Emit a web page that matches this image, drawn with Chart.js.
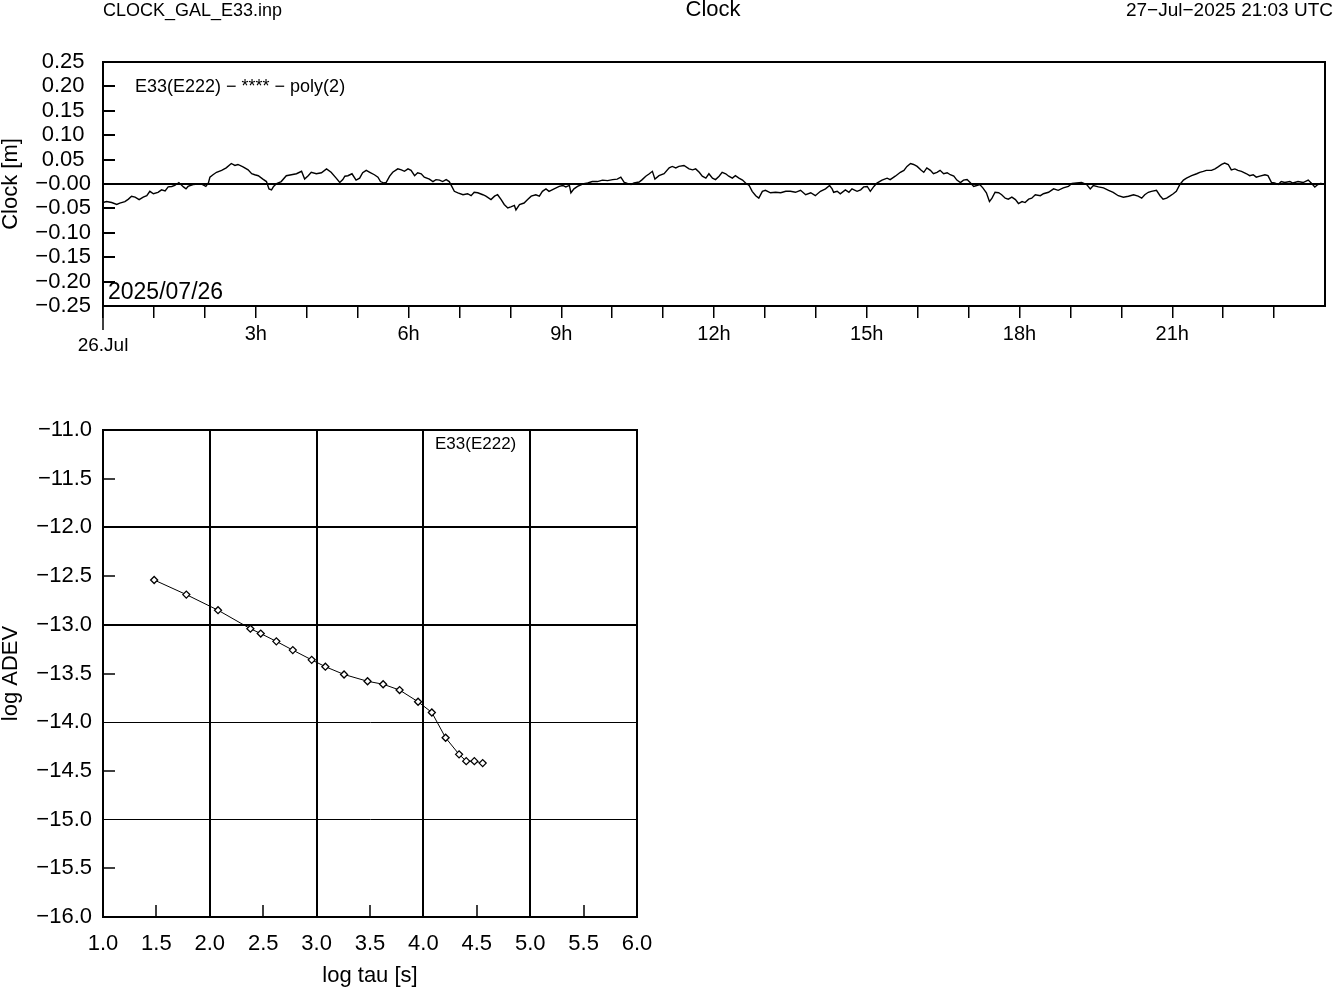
<!DOCTYPE html>
<html>
<head>
<meta charset="utf-8">
<title>Clock</title>
<script src="https://cdn.jsdelivr.net/npm/chart.js@4.4.1/dist/chart.umd.min.js"></script>
<style>
  html, body { margin: 0; padding: 0; background: #fff; }
  #page { position: relative; width: 1333px; height: 989px; overflow: hidden; }
  canvas { position: absolute; left: 0; }
</style>
</head>
<body>
<div id="page">
  <canvas id="clockChart" width="1333" height="370" style="top:0"></canvas>
  <canvas id="adevChart" width="1333" height="619" style="top:370px"></canvas>
</div>
<script>
// --- clock residuals (hours since 26.Jul 00:00, metres)
const clockHours = [
  0.00, 0.07, 0.17, 0.27, 0.33, 0.43, 0.50, 0.56, 0.63, 0.71, 0.79, 0.86, 0.92, 0.99, 1.08, 1.15, 1.22, 1.28, 1.35, 1.41,
  1.49, 1.58, 1.63, 1.67, 1.77, 1.87, 1.93, 2.02, 2.07, 2.10, 2.16, 2.23, 2.33, 2.42, 2.52, 2.59, 2.65, 2.75, 2.85, 2.92,
  2.98, 3.05, 3.14, 3.21, 3.26, 3.31, 3.35, 3.41, 3.50, 3.60, 3.70, 3.80, 3.90, 3.96, 4.03, 4.09, 4.19, 4.29, 4.39, 4.48,
  4.58, 4.65, 4.71, 4.75, 4.81, 4.89, 4.97, 5.04, 5.10, 5.17, 5.24, 5.33, 5.40, 5.45, 5.52, 5.56, 5.63, 5.69, 5.79, 5.86,
  5.92, 5.99, 6.05, 6.12, 6.18, 6.25, 6.31, 6.41, 6.48, 6.54, 6.61, 6.67, 6.74, 6.80, 6.85, 6.90, 6.97, 7.07, 7.16, 7.23,
  7.29, 7.36, 7.46, 7.52, 7.62, 7.69, 7.75, 7.82, 7.88, 7.95, 8.01, 8.08, 8.11, 8.18, 8.27, 8.34, 8.41, 8.50, 8.57, 8.63,
  8.70, 8.76, 8.86, 8.96, 9.03, 9.09, 9.16, 9.19, 9.25, 9.32, 9.42, 9.52, 9.61, 9.71, 9.81, 9.91, 10.01, 10.10, 10.17, 10.24,
  10.30, 10.37, 10.43, 10.53, 10.59, 10.66, 10.73, 10.79, 10.84, 10.92, 11.02, 11.12, 11.18, 11.25, 11.31, 11.41, 11.51, 11.58, 11.64, 11.71,
  11.77, 11.84, 11.90, 11.97, 12.03, 12.10, 12.16, 12.23, 12.29, 12.36, 12.42, 12.49, 12.56, 12.62, 12.69, 12.75, 12.82, 12.88, 12.95, 13.01,
  13.11, 13.21, 13.31, 13.41, 13.50, 13.60, 13.70, 13.80, 13.90, 13.99, 14.09, 14.19, 14.27, 14.32, 14.35, 14.42, 14.48, 14.58, 14.65, 14.71,
  14.81, 14.88, 14.94, 15.01, 15.07, 15.14, 15.20, 15.30, 15.40, 15.46, 15.56, 15.66, 15.73, 15.79, 15.86, 15.92, 15.99, 16.07, 16.12, 16.18,
  16.25, 16.31, 16.38, 16.44, 16.51, 16.58, 16.64, 16.71, 16.77, 16.84, 16.90, 16.97, 17.03, 17.10, 17.16, 17.22, 17.28, 17.35, 17.41, 17.46,
  17.52, 17.59, 17.65, 17.72, 17.78, 17.85, 17.92, 17.98, 18.05, 18.11, 18.18, 18.24, 18.31, 18.41, 18.47, 18.57, 18.67, 18.76, 18.86, 18.96,
  19.03, 19.12, 19.22, 19.32, 19.39, 19.45, 19.55, 19.65, 19.75, 19.84, 19.94, 20.04, 20.14, 20.24, 20.33, 20.40, 20.46, 20.53, 20.59, 20.69,
  20.76, 20.82, 20.89, 20.95, 21.02, 21.08, 21.15, 21.22, 21.28, 21.38, 21.48, 21.54, 21.61, 21.67, 21.77, 21.84, 21.90, 21.97, 22.03, 22.10,
  22.16, 22.23, 22.29, 22.36, 22.46, 22.52, 22.59, 22.65, 22.72, 22.82, 22.88, 22.95, 23.01, 23.08, 23.14, 23.21, 23.31, 23.37, 23.47, 23.57,
  23.67, 23.73, 23.80, 23.86, 23.93
];
const clockMeters = [
  -0.038, -0.036, -0.038, -0.042, -0.039, -0.036, -0.031, -0.025, -0.027, -0.032, -0.027, -0.024, -0.015, -0.020, -0.017, -0.012, -0.014, -0.006, -0.005, -0.003,
  0.003, -0.006, -0.010, -0.005, -0.001, 0.000, 0.000, -0.005, 0.002, 0.014, 0.019, 0.024, 0.028, 0.033, 0.042, 0.038, 0.040, 0.035, 0.029, 0.021,
  0.019, 0.017, 0.010, 0.005, -0.010, -0.012, -0.005, 0.001, 0.005, 0.017, 0.019, 0.021, 0.026, 0.010, 0.017, 0.024, 0.021, 0.023, 0.031, 0.024,
  0.012, 0.003, 0.009, 0.016, 0.017, 0.021, 0.008, 0.012, 0.023, 0.028, 0.024, 0.019, 0.014, 0.005, 0.002, 0.003, 0.016, 0.024, 0.031, 0.029,
  0.026, 0.031, 0.028, 0.017, 0.023, 0.021, 0.014, 0.010, 0.005, 0.009, 0.008, 0.005, 0.009, 0.005, -0.005, -0.015, -0.018, -0.022, -0.020, -0.024,
  -0.017, -0.018, -0.022, -0.025, -0.032, -0.025, -0.022, -0.032, -0.042, -0.049, -0.047, -0.044, -0.053, -0.042, -0.039, -0.032, -0.025, -0.022, -0.025, -0.015,
  -0.010, -0.015, -0.010, -0.005, -0.003, -0.006, -0.003, -0.018, -0.010, -0.005, 0.000, 0.002, 0.005, 0.005, 0.008, 0.007, 0.009, 0.010, 0.014, 0.003,
  0.001, -0.001, 0.002, 0.004, 0.009, 0.016, 0.021, 0.026, 0.010, 0.017, 0.021, 0.033, 0.036, 0.033, 0.036, 0.038, 0.031, 0.029, 0.031, 0.024,
  0.016, 0.012, 0.021, 0.012, 0.009, 0.016, 0.024, 0.021, 0.016, 0.012, 0.017, 0.012, 0.008, 0.002, -0.003, -0.015, -0.024, -0.029, -0.015, -0.013,
  -0.018, -0.017, -0.018, -0.015, -0.015, -0.017, -0.013, -0.022, -0.018, -0.024, -0.015, -0.010, -0.003, -0.010, -0.017, -0.015, -0.020, -0.012, -0.017, -0.010,
  -0.015, -0.012, -0.006, -0.005, -0.015, -0.005, 0.002, 0.008, 0.012, 0.009, 0.016, 0.024, 0.028, 0.036, 0.042, 0.040, 0.036, 0.028, 0.024, 0.033,
  0.028, 0.021, 0.024, 0.028, 0.021, 0.023, 0.019, 0.016, 0.008, 0.003, 0.008, 0.009, 0.003, -0.005, -0.003, -0.001, -0.008, -0.018, -0.036, -0.029,
  -0.017, -0.018, -0.022, -0.029, -0.031, -0.027, -0.032, -0.040, -0.036, -0.038, -0.031, -0.029, -0.022, -0.024, -0.020, -0.017, -0.010, -0.013, -0.008, -0.005,
  0.001, 0.002, 0.003, -0.001, -0.010, -0.003, -0.006, -0.008, -0.013, -0.017, -0.024, -0.027, -0.025, -0.022, -0.025, -0.029, -0.022, -0.017, -0.015, -0.013,
  -0.024, -0.031, -0.029, -0.025, -0.020, -0.015, -0.001, 0.008, 0.012, 0.017, 0.021, 0.024, 0.026, 0.028, 0.028, 0.031, 0.035, 0.040, 0.043, 0.040,
  0.029, 0.031, 0.028, 0.026, 0.021, 0.017, 0.019, 0.014, 0.016, 0.019, 0.017, 0.003, 0.002, -0.001, 0.005, 0.003, 0.005, 0.002, 0.005, 0.003,
  0.008, 0.002, -0.006, -0.001, 0.002
];

// --- Allan deviation (log10 tau [s], log10 ADEV)
const logTau  = [1.479, 1.780, 2.077, 2.380, 2.477, 2.623, 2.777, 2.954, 3.082, 3.257, 3.477, 3.623, 3.777, 3.950, 4.079, 4.208, 4.334, 4.401, 4.477, 4.555];
const logAdev = [-12.54, -12.69, -12.85, -13.04, -13.09, -13.17, -13.26, -13.36, -13.43, -13.51, -13.58, -13.61, -13.67, -13.79, -13.90, -14.16, -14.33, -14.40, -14.40, -14.42];

// --- texts
const fileName   = 'CLOCK_GAL_E33.inp';
const plotTitle  = 'Clock';
const stampText  = '27\u2212Jul\u22122025 21:03 UTC';
const clockTag   = 'E33(E222) \u2212 **** \u2212 poly(2)';
const adevTag    = 'E33(E222)';
const dayText    = '2025/07/26';
const dayTick    = '26.Jul';

const FONT = '"Liberation Sans", Arial, Helvetica, sans-serif';
const MINUS = '\u2212';
const isWhole = v => Math.abs(v - Math.round(v)) < 1e-9;

function fmtClock(v) {
  if (v < 0.001) return MINUS + Math.abs(v).toFixed(2);
  return v.toFixed(2);
}

// frame, inward ticks and free texts of the upper plot
const clockFrame = {
  id: 'clockFrame',
  afterDraw(chart) {
    const { ctx, chartArea: a, scales: { x, y } } = chart;
    ctx.save();
    ctx.strokeStyle = '#000';
    ctx.lineWidth = 2;
    ctx.strokeRect(a.left, a.top, a.right - a.left, a.bottom - a.top);
    y.ticks.forEach(t => {
      if (t.value <= y.min + 1e-9 || t.value >= y.max - 1e-9) return;
      const py = Math.round(y.getPixelForValue(t.value));
      ctx.beginPath(); ctx.moveTo(a.left, py); ctx.lineTo(a.left + 12, py); ctx.stroke();
    });
    // longer tick at day start
    const px0 = x.getPixelForValue(0);
    ctx.lineWidth = 1.5;
    ctx.beginPath(); ctx.moveTo(px0, a.bottom); ctx.lineTo(px0, a.bottom + 24); ctx.stroke();

    ctx.fillStyle = '#000';
    ctx.textBaseline = 'middle';
    ctx.textAlign = 'center';
    ctx.font = '19px ' + FONT;
    ctx.fillText(dayTick, px0, 346);
    ctx.font = '22px ' + FONT;
    ctx.fillText(plotTitle, 713, 10);
    ctx.textAlign = 'left';
    ctx.font = '18px ' + FONT;
    ctx.fillText(fileName, 103, 11);
    ctx.fillText(clockTag, a.left + 32, 87);
    ctx.font = '23px ' + FONT;
    ctx.fillText(dayText, a.left + 5, 293);
    ctx.textAlign = 'right';
    ctx.font = '19px ' + FONT;
    ctx.fillText(stampText, 1333, 11);
    ctx.restore();
  }
};

// frame, inward ticks and legend text of the lower plot
const adevFrame = {
  id: 'adevFrame',
  afterDraw(chart) {
    const { ctx, chartArea: a, scales: { x, y } } = chart;
    ctx.save();
    ctx.strokeStyle = '#000';
    ctx.lineWidth = 2;
    ctx.strokeRect(a.left, a.top, a.right - a.left, a.bottom - a.top);
    ctx.lineWidth = 1.5;
    y.ticks.forEach(t => {
      if (isWhole(t.value)) return;
      const py = Math.round(y.getPixelForValue(t.value));
      ctx.beginPath(); ctx.moveTo(a.left, py); ctx.lineTo(a.left + 12, py); ctx.stroke();
    });
    x.ticks.forEach(t => {
      if (isWhole(t.value)) return;
      const px = Math.round(x.getPixelForValue(t.value));
      ctx.beginPath(); ctx.moveTo(px, a.bottom); ctx.lineTo(px, a.bottom - 12); ctx.stroke();
    });
    ctx.fillStyle = '#000';
    ctx.textBaseline = 'middle';
    ctx.textAlign = 'left';
    ctx.font = '17px ' + FONT;
    ctx.fillText(adevTag, 435, a.top + 14);
    ctx.restore();
  }
};

const clockPoints = clockHours.map((h, i) => ({ x: h, y: clockMeters[i] }));

new Chart(document.getElementById('clockChart'), {
  type: 'line',
  data: {
    datasets: [
      { data: clockPoints, borderColor: '#000', borderWidth: 1.4, pointRadius: 0, tension: 0 },
      { data: [{ x: 0, y: 0 }, { x: 24, y: 0 }], borderColor: '#000', borderWidth: 2.2, pointRadius: 0 }
    ]
  },
  options: {
    responsive: false,
    animation: false,
    devicePixelRatio: 1,
    events: [],
    layout: { padding: { top: 62, right: 8, left: 0, bottom: 0 } },
    plugins: { legend: { display: false }, tooltip: { enabled: false } },
    scales: {
      x: {
        type: 'linear', min: 0, max: 24,
        afterFit: s => { s.height = 64; },
        border: { display: true, color: '#000', width: 2 },
        grid: {
          drawOnChartArea: false, drawTicks: true, tickLength: 12, lineWidth: 1.5,
          color: c => (c.tick && c.tick.value >= 24) ? 'rgba(0,0,0,0)' : '#000'
        },
        ticks: {
          stepSize: 1, autoSkip: false, maxRotation: 0, padding: 4, color: '#000',
          font: { family: FONT, size: 20 },
          callback: v => (v % 3 === 0 && v > 0 && v < 24) ? v + 'h' : ''
        }
      },
      y: {
        min: -0.25, max: 0.25,
        afterFit: s => { s.width = 103; },
        border: { display: true, color: '#000', width: 2 },
        grid: { drawOnChartArea: false, drawTicks: false },
        ticks: {
          stepSize: 0.05, autoSkip: false, crossAlign: 'center', padding: 12, color: '#000',
          font: { family: FONT, size: 22 },
          callback: fmtClock
        },
        title: {
          display: true, text: 'Clock [m]', color: '#000',
          font: { family: FONT, size: 22, lineHeight: 1 }, padding: { top: 0, bottom: 0 }
        }
      }
    }
  },
  plugins: [clockFrame]
});

const adevPoints = logTau.map((t, i) => ({ x: t, y: logAdev[i] }));

new Chart(document.getElementById('adevChart'), {
  type: 'line',
  data: {
    datasets: [{
      data: adevPoints, borderColor: '#000', borderWidth: 1, tension: 0,
      pointStyle: 'rectRot', pointRadius: 3.5, pointBorderWidth: 1.3,
      pointBackgroundColor: '#fff', pointBorderColor: '#000'
    }]
  },
  options: {
    responsive: false,
    animation: false,
    devicePixelRatio: 1,
    events: [],
    layout: { padding: { top: 60, right: 696, left: 0, bottom: 0 } },
    plugins: { legend: { display: false }, tooltip: { enabled: false } },
    scales: {
      x: {
        type: 'linear', min: 1, max: 6,
        afterFit: s => { s.height = 72; },
        border: { display: true, color: '#000', width: 2 },
        grid: {
          drawTicks: false, lineWidth: 2,
          color: c => (c.tick && isWhole(c.tick.value)) ? '#000' : 'rgba(0,0,0,0)'
        },
        ticks: {
          stepSize: 0.5, autoSkip: false, maxRotation: 0, padding: 14, color: '#000',
          font: { family: FONT, size: 22 },
          callback: v => v.toFixed(1)
        },
        title: {
          display: true, text: 'log tau [s]', color: '#000',
          font: { family: FONT, size: 22, lineHeight: 1 }, padding: { top: 0, bottom: 2 }
        }
      },
      y: {
        min: -16, max: -11,
        afterFit: s => { s.width = 103; },
        border: { display: true, color: '#000', width: 2 },
        grid: {
          drawTicks: false,
          lineWidth: c => (c.tick && (c.tick.value === -12 || c.tick.value === -13)) ? 2 : 1,
          color: c => (c.tick && isWhole(c.tick.value)) ? '#000' : 'rgba(0,0,0,0)'
        },
        ticks: {
          stepSize: 0.5, autoSkip: false, crossAlign: 'near', padding: 11, color: '#000',
          font: { family: FONT, size: 22 },
          callback: v => MINUS + Math.abs(v).toFixed(1)
        },
        title: {
          display: true, text: 'log ADEV', color: '#000',
          font: { family: FONT, size: 22, lineHeight: 1 }, padding: { top: 0, bottom: 0 }
        }
      }
    }
  },
  plugins: [adevFrame]
});
</script>
</body>
</html>
